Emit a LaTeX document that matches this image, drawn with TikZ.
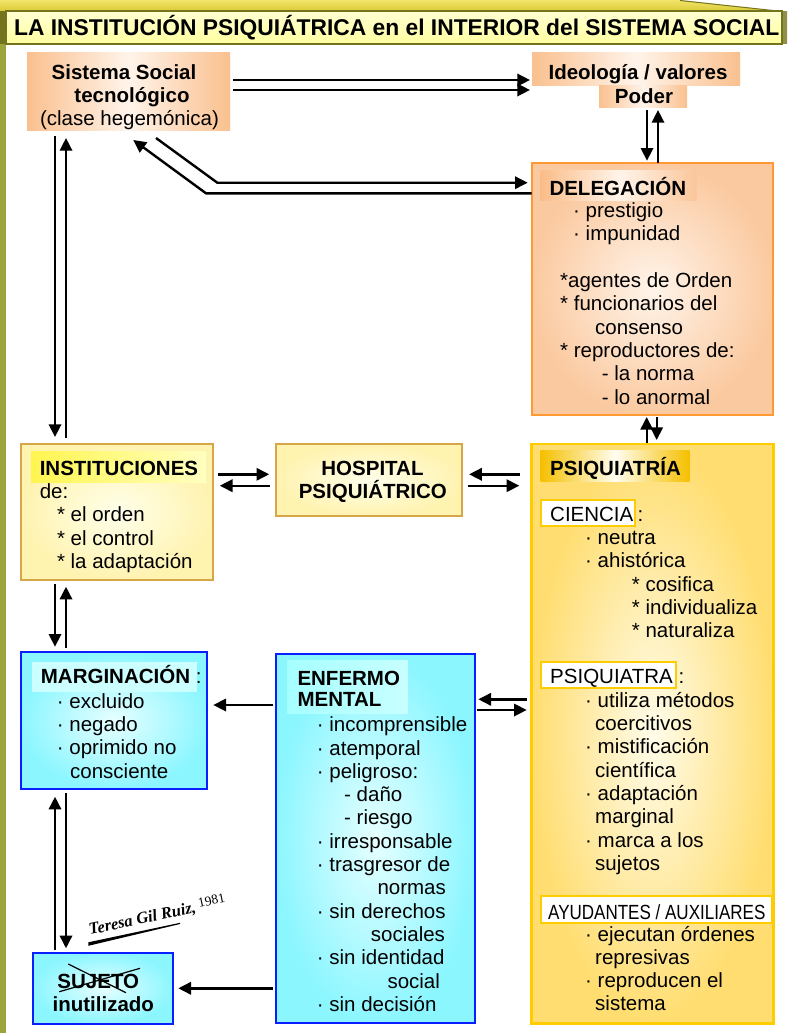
\documentclass[tikz,border=0pt]{standalone}
\usepackage{fontspec}
\setmainfont{Liberation Sans}
\newfontfamily\tserif{Liberation Serif}
\usetikzlibrary{arrows.meta,calc}
\newcommand\fs{\fontsize{20.5pt}{23.3pt}\selectfont}
\definecolor{peach}{HTML}{FAC08F}
\definecolor{peachL}{HTML}{FFF4EA}
\definecolor{orangeB}{HTML}{FF9933}
\definecolor{tanB}{HTML}{D8A64A}
\definecolor{ylwE}{HTML}{FFF3B0}
\definecolor{ylwC}{HTML}{FFFFEA}
\definecolor{goldB}{HTML}{FFCC00}
\definecolor{goldE}{HTML}{FFDD70}
\definecolor{goldC}{HTML}{FFFCEA}
\definecolor{goldH}{HTML}{F5C000}
\definecolor{goldM}{HTML}{FFFDF0}
\definecolor{blueB}{HTML}{0A1EFF}
\definecolor{cyanE}{HTML}{8CF6FF}
\definecolor{cyanC}{HTML}{E6FFFF}
\definecolor{cyanH}{HTML}{CCFFFF}
\definecolor{cyanHa}{HTML}{A6FFFF}
\definecolor{cyanHb}{HTML}{C8FFFF}
\definecolor{yelHa}{HTML}{FFF550}
\definecolor{yelHb}{HTML}{FFFFC0}
\definecolor{oliveA}{HTML}{9CA43C}
\definecolor{oliveD}{HTML}{74741E}
\definecolor{bandT}{HTML}{F2E46A}
\definecolor{bandB}{HTML}{D9C832}
\definecolor{titT}{HTML}{FFFFD2}
\definecolor{titB}{HTML}{FFFFA0}
\begin{document}
\begin{tikzpicture}[x=1pt,y=-1pt,
  box/.style={inner sep=0pt, outer sep=0pt, anchor=north west},
  peachbox/.style={box, left color=peach, right color=peach, middle color=peachL},
  yelbox/.style={box, draw=tanB, line width=2pt, shading=radial, inner color=ylwC, outer color=ylwE},
  bluebox/.style={box, draw=blueB, line width=2pt, shading=radial, inner color=cyanC, outer color=cyanE},
  tagbox/.style={box, draw=goldB, line width=2.2pt, fill=white},
  arr/.style={line width=2.4pt, -{Triangle[length=12.7pt,width=12.3pt]}},
  txt/.style={anchor=base west, inner sep=0pt, font=\fs},
  btxt/.style={anchor=base west, inner sep=0pt, font=\fs\bfseries},
  ctxt/.style={anchor=base, inner sep=0pt, font=\fs},
  cbtxt/.style={anchor=base, inner sep=0pt, font=\fs\bfseries}
]
% ---------- frame ----------
\fill[white] (0,0) rectangle (787,1033);
\shade[top color=bandT, bottom color=bandB] (0,0) -- (680,0) -- (787,12) -- (0,12) -- cycle;
\draw[oliveD, line width=1pt] (680,0.5) -- (787,12);
\fill[oliveA] (0,11) rectangle (6,1033);
\fill[oliveD] (0,11) -- (6,11) -- (6,44) -- (0,44) -- cycle;
\fill[oliveD!80] (782,11) -- (787,12) -- (787,44) -- (782,44) -- cycle;
\shade[top color=titT, bottom color=titB, draw=oliveD, line width=1.3pt] (6,11) rectangle (782,44);
\node[anchor=base west, inner sep=0pt, font=\fontsize{22.8pt}{24pt}\selectfont\bfseries] (title) at (14,36) {LA INSTITUCIÓN PSIQUIÁTRICA en el INTERIOR del SISTEMA SOCIAL};

% ---------- boxes ----------
\node[peachbox, minimum width=203pt, minimum height=77pt] (sis) at (27,53) {};
\node[peachbox, minimum width=208pt, minimum height=32pt] (ideo) at (532,53) {};
\node[peachbox, minimum width=88pt, minimum height=22pt] (poder) at (599,85) {};
\node[box, draw=orangeB, line width=2pt, shading=radial, inner color=peachL, outer color=peach!85!white, minimum width=241.6pt, minimum height=252.3pt] (dele) at (531.7,162.7) {};
\node[peachbox, left color=peach!95!orange, right color=peach!90!white, middle color=peachL, minimum width=156pt, minimum height=30pt] (deleh) at (540.7,170.7) {};

\node[yelbox, minimum width=191.5pt, minimum height=136pt] (inst) at (21.3,444) {};
\node[box, left color=yelHa, right color=yelHb, minimum width=175pt, minimum height=31pt] (insth) at (31,451.7) {};
\node[yelbox, minimum width=185.9pt, minimum height=72pt] (hosp) at (276.2,444) {};

\node[box, draw=goldB, line width=2.5pt, shading=radial, inner color=goldC, outer color=goldE, minimum width=241.6pt, minimum height=579.3pt] (psiq) at (531.7,444) {};
\node[box, left color=goldH, right color=goldH, middle color=goldM, minimum width=148.6pt, minimum height=31.7pt] (psiqh) at (540.7,450) {};
\node[tagbox, minimum width=94.3pt, minimum height=26pt] (cien) at (540.7,500) {};
\node[tagbox, minimum width=135.3pt, minimum height=26.6pt] (psqt) at (540.7,661.7) {};
\node[tagbox, minimum width=231pt, minimum height=27.3pt] (ayud) at (540.7,896) {};

\node[bluebox, minimum width=186.6pt, minimum height=137.6pt] (marg) at (20.7,651.7) {};
\node[box, fill=cyanH, minimum width=165pt, minimum height=30pt] (margh) at (31.7,661.7) {};
\node[bluebox, minimum width=199pt, minimum height=369.3pt] (enf) at (276,654) {};
\node[box, left color=cyanHa, right color=cyanHb, minimum width=120pt, minimum height=52.6pt] (enfh) at (287.3,660.7) {};
\node[bluebox, minimum width=140pt, minimum height=71.3pt] (suj) at (33.3,952.7) {};

% ---------- texts ----------
\node[cbtxt] (sis1) at (124,79.5) {Sistema Social};
\node[cbtxt] (sis2) at (132,102) {tecnológico};
\node[ctxt] (sis3) at (129.5,125) {(clase hegemónica)};
\node[cbtxt] (ideo1) at (638,79.7) {Ideología / valores};
\node[cbtxt] (poder1) at (644,103.5) {Poder};

\node[btxt] (dl0) at (549.3,195) {DELEGACIÓN};
\node[txt] (dl1) at (573,217) {· prestigio};
\node[txt] (dl2) at (573,240.5) {· impunidad};
\node[txt] (dl3) at (560,287.3) {*agentes de Orden};
\node[txt] (dl4) at (560,310.7) {* funcionarios del};
\node[txt] (dl5) at (595,334) {consenso};
\node[txt] (dl6) at (560,357.3) {* reproductores de:};
\node[txt] (dl7) at (601.7,380.7) {- la norma};
\node[txt] (dl8) at (601.7,404) {- lo anormal};

\node[btxt] (in0) at (39.6,475) {INSTITUCIONES};
\node[txt] (in1) at (39.6,498.3) {de:};
\node[txt] (in2) at (56.8,521.8) {* el orden};
\node[txt] (in3) at (56.8,545) {* el control};
\node[txt] (in4) at (56.8,568.3) {* la adaptación};

\node[cbtxt] (ho1) at (372.5,475) {HOSPITAL};
\node[cbtxt] (ho2) at (372.8,498.3) {PSIQUIÁTRICO};

\node[btxt] (ps0) at (550,475) {PSIQUIATRÍA};
\node[txt] (ps1) at (550,521.7) {CIENCIA};
\node[txt] (ps1c) at (637.3,521.7) {:};
\node[txt] (ps2) at (585,544.3) {· neutra};
\node[txt] (ps3) at (585,567.7) {· ahistórica};
\node[txt] (ps4) at (631.7,591) {* cosifica};
\node[txt] (ps5) at (631.7,614.3) {* individualiza};
\node[txt] (ps6) at (631.7,637.7) {* naturaliza};
\node[txt] (ps7) at (550,683.3) {PSIQUIATRA};
\node[txt] (ps7c) at (678.5,683.3) {:};
\node[txt] (ps8) at (585,707.3) {· utiliza métodos};
\node[txt] (ps9) at (595,730.6) {coercitivos};
\node[txt] (ps10) at (585,753.9) {· mistificación};
\node[txt] (ps11) at (595,777.2) {científica};
\node[txt] (ps12) at (585,800.5) {· adaptación};
\node[txt] (ps13) at (595,823.8) {marginal};
\node[txt] (ps14) at (585,847.1) {· marca a los};
\node[txt] (ps15) at (595,870.4) {sujetos};
\node[anchor=base west, inner sep=0pt] (ps16) at (548,919.3) {\scalebox{0.83}[1]{\fs AYUDANTES / AUXILIARES}};
\node[txt] (ps17) at (585,941) {· ejecutan órdenes};
\node[txt] (ps18) at (595,964.3) {represivas};
\node[txt] (ps19) at (585,987.6) {· reproducen el};
\node[txt] (ps20) at (595,1010.9) {sistema};

\node[txt] (mg0) at (40.7,683.3) {\bfseries MARGINACIÓN\mdseries\ :};
\node[txt] (mg1) at (56.7,708.3) {· excluido};
\node[txt] (mg2) at (56.7,731.6) {· negado};
\node[txt] (mg3) at (56.7,754.9) {· oprimido no};
\node[txt] (mg4) at (70,778.2) {consciente};

\node[btxt] (en0) at (297.3,685) {ENFERMO};
\node[btxt] (en00) at (297.3,706.7) {MENTAL};
\node[txt] (en1) at (316.7,731.7) {· incomprensible};
\node[txt] (en2) at (316.7,755) {· atemporal};
\node[txt] (en3) at (316.7,778.3) {· peligroso:};
\node[txt] (en4) at (344,801.6) {- daño};
\node[txt] (en5) at (344,824.9) {- riesgo};
\node[txt] (en6) at (316.7,848.2) {· irresponsable};
\node[txt] (en7) at (316.7,871.5) {· trasgresor de};
\node[txt] (en8) at (377.3,894.8) {normas};
\node[txt] (en9) at (316.7,918.1) {· sin derechos};
\node[txt] (en10) at (370.7,941.4) {sociales};
\node[txt] (en11) at (316.7,964.7) {· sin identidad};
\node[txt] (en12) at (387.3,988) {social};
\node[txt] (en13) at (316.7,1011.3) {· sin decisión};

\node[cbtxt] (sj1) at (98.3,988.3) {SUJETO};
\node[cbtxt] (sj2) at (103.3,1011.7) {inutilizado};
\draw[line width=1.2pt] (68.3,964) -- (126,992.7);
\draw[line width=1.2pt] (59.3,991.7) -- (140,968.3);

% signature
\node[anchor=base west, inner sep=0pt, rotate=12] (firma) at (90,935) {\tserif\fontsize{16.5pt}{16.5pt}\selectfont\bfseries\itshape Teresa Gil Ruiz,\normalfont\tserif\fontsize{13.5pt}{13.5pt}\selectfont\raisebox{4pt}{ 1981}};
\fill (88.3,942.3) -- (180,922.8) -- (180,924) -- (88.3,945.8) -- cycle;

% ---------- connectors ----------
\draw[arr] ($(sis.north east)+(3,27)$) -- ($(ideo.north west)+(-2,27)$);
\draw[arr] ($(sis.north east)+(3,37)$) -- ($(ideo.north west)+(-2,37)$);
\draw[arr] ($(poder.south west)+(48,3)$) -- ($(dele.north west)+(115.3,-2)$);
\draw[arr] ($(dele.north west)+(126.3,0)$) -- ($(poder.south west)+(59,3)$);
\draw[arr] ($(sis.south west)+(129,8)$) -- ($(sis.south west)+(190.3,52.7)$) -- ($(dele.north west)+(-4,20)$);
\draw[arr] ($(dele.north west)+(0,30.6)$) -- ($(sis.south west)+(179,63.3)$) -- ($(sis.south west)+(106.3,10)$);
\draw[arr] ($(sis.south west)+(28,6)$) -- ($(inst.north west)+(33.7,-7)$);
\draw[arr] ($(inst.north west)+(44.7,-6)$) -- ($(sis.south west)+(39,8)$);
\draw[arr] ($(psiq.north west)+(115,-1)$) -- ($(dele.south west)+(115,2)$);
\draw[arr] ($(dele.south west)+(125,2)$) -- ($(psiq.north west)+(125,-4)$);
\draw[arr] ($(inst.north east)+(5.2,30.3)$) -- ($(hosp.north west)+(-7,30.3)$);
\draw[arr] ($(hosp.north west)+(-6,41.7)$) -- ($(inst.north east)+(7,41.7)$);
\draw[arr] ($(psiq.north west)+(-11.7,30.3)$) -- ($(hosp.north east)+(7,30.3)$);
\draw[arr] ($(hosp.north east)+(5.5,41.7)$) -- ($(psiq.north west)+(-12.4,41.7)$);
\draw[arr] ($(inst.south west)+(33.7,4)$) -- ($(marg.north west)+(34.3,-5)$);
\draw[arr] ($(marg.north west)+(45.3,-3.4)$) -- ($(inst.south west)+(44.7,6.7)$);
\draw[arr] ($(suj.north west)+(21.7,-2.7)$) -- ($(marg.south west)+(34.3,7.4)$);
\draw[arr] ($(marg.south west)+(45.3,4)$) -- ($(suj.north west)+(32.7,-4.4)$);
\draw[arr] ($(enf.north west)+(-2.7,51)$) -- ($(marg.north east)+(6,53.3)$);
\draw[arr] ($(enf.north west)+(-2.7,334.3)$) -- ($(suj.north east)+(5,35.6)$);
\draw[arr] ($(psiq.north west)+(-5,255.3)$) -- ($(enf.north east)+(3.3,45.3)$);
\draw[arr] ($(enf.north east)+(1.7,56)$) -- ($(psiq.north west)+(-5,266)$);
\end{tikzpicture}
\end{document}
